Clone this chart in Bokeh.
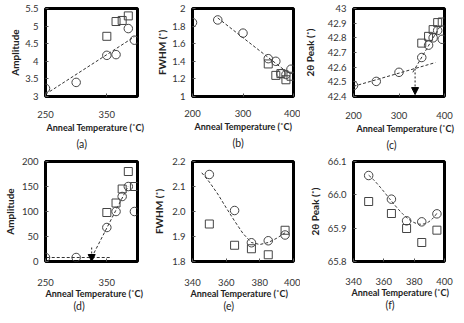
import numpy as np
from bokeh.plotting import figure
from bokeh.layouts import gridplot
from bokeh.models import (Range1d, FixedTicker, NumeralTickFormatter, Title,
                          Arrow, NormalHead)
from bokeh.embed import file_html
from bokeh.resources import INLINE

# ---------------- data ----------------
# (a) XRD amplitude vs anneal temperature
a_circ_t = [250, 300, 350, 365, 385, 395]
a_circ_v = [3.23, 3.40, 4.17, 4.19, 4.93, 4.60]
a_sq_t = [350, 365, 375, 385]
a_sq_v = [4.71, 5.13, 5.16, 5.29]

# (b) FWHM
b_circ_t = [200, 250, 300, 350, 365, 375, 385, 395]
b_circ_v = [1.84, 1.87, 1.72, 1.43, 1.40, 1.26, 1.25, 1.31]
b_sq_t = [350, 365, 375, 385, 395]
b_sq_v = [1.37, 1.24, 1.26, 1.19, 1.23]

# (c) 2-theta peak position
c_circ_t = [200, 250, 300, 350, 365, 375, 385, 395]
c_circ_v = [42.475, 42.503, 42.565, 42.666, 42.75, 42.80, 42.85, 42.79]
c_sq_t = [350, 365, 375, 385, 395]
c_sq_v = [42.764, 42.81, 42.856, 42.904, 42.908]

# (d) amplitude, second reflection
d_circ_t = [250, 300, 350, 365, 375, 385, 395]
d_circ_v = [8, 8, 68, 100, 130, 150, 100]
d_sq_t = [350, 365, 375, 385, 395]
d_sq_v = [98, 117, 145, 180, 150]

# (e) FWHM, second reflection
e_circ_t = [350, 365, 375, 385, 395]
e_circ_v = [2.148, 2.004, 1.875, 1.883, 1.906]
e_sq_t = [350, 365, 375, 385, 395]
e_sq_v = [1.95, 1.865, 1.851, 1.827, 1.925]
# guide curve drawn through (e)
e_curve_t = [345.5, 350, 355, 360, 365, 370, 375, 380, 385, 390, 395]
e_curve_v = [2.155, 2.118, 2.07, 2.015, 1.962, 1.912, 1.876, 1.868, 1.876, 1.893, 1.915]

# (f) 2-theta peak, second reflection
f_circ_t = [350, 365, 375, 385, 395]
f_circ_v = [66.058, 65.987, 65.922, 65.919, 65.943]
f_sq_t = [350, 365, 375, 385, 395]
f_sq_v = [65.98, 65.944, 65.899, 65.857, 65.894]

X_TITLE = "Anneal Temperature (\u02daC)"

FONT = "Lato"

# panel geometry: cell origin/size and frame box in page pixels
COLS = [(0, 150), (150, 150), (300, 164)]
ROWS = [(0, 155), (155, 168)]


def make_panel(col, row, frame, xr, yr, xticks, yticks, yfmt, xstand,
               ytitle, ystand, xt_off, xt_stand, tag, tag_off, tag_stand):
    cx, cw = COLS[col]
    ry, rh = ROWS[row]
    L, R, T, B = frame
    p = figure(width=cw, height=rh, output_backend="svg", toolbar_location=None,
               x_range=Range1d(*xr), y_range=Range1d(*yr),
               min_border_left=L - cx, min_border_right=cx + cw - R,
               min_border_top=T - ry, min_border_bottom=ry + rh - B)
    p.background_fill_color = "white"
    p.border_fill_color = "white"
    p.grid.visible = False
    p.outline_line_color = "black"
    p.outline_line_width = 3
    for ax in (p.xaxis[0], p.yaxis[0]):
        ax.axis_line_color = None
        ax.major_tick_in = 3
        ax.major_tick_out = 0
        ax.major_tick_line_color = "#555555"
        ax.minor_tick_line_color = None
        ax.major_label_text_font = FONT
        ax.major_label_text_font_size = "9.5px"
        ax.major_label_text_color = "#333333"
    p.xaxis.ticker = FixedTicker(ticks=xticks)
    p.yaxis.ticker = FixedTicker(ticks=yticks)
    p.xaxis.major_label_standoff = xstand
    p.yaxis.major_label_standoff = 7
    p.yaxis.formatter = NumeralTickFormatter(format=yfmt)
    p.xaxis.formatter = NumeralTickFormatter(format="0")
    # vertical axis title
    p.yaxis.axis_label = ytitle
    p.yaxis.axis_label_standoff = ystand
    p.yaxis.axis_label_text_font = FONT
    p.yaxis.axis_label_text_font_size = "10px"
    p.yaxis.axis_label_text_font_style = "bold"
    p.yaxis.axis_label_text_color = "#222222"
    # horizontal axis title and panel tag, stacked under the axis
    p.add_layout(Title(text=X_TITLE, align="left", offset=xt_off, standoff=xt_stand,
                       text_font=FONT, text_font_size="9px",
                       text_font_style="bold", text_color="#222222"), "below")
    p.add_layout(Title(text=tag, align="left", offset=tag_off, standoff=tag_stand,
                       text_font=FONT, text_font_size="10.5px",
                       text_font_style="normal", text_color="#222222"), "below")
    return p


def points(p, ct, cv, st, sv):
    p.scatter(st, sv, marker="square", size=8, fill_color=None,
              line_color="#444444", line_width=1)
    p.scatter(ct, cv, marker="circle", size=8.5, fill_color=None,
              line_color="#444444", line_width=1)


def trend(p, xs, ys):
    p.line(xs, ys, line_dash="3 2", line_color="#333333", line_width=1)


def linfit(t, v):
    return np.polyfit(np.asarray(t, float), np.asarray(v, float), 1)


def onset_arrow(p, x, y0, y1):
    p.add_layout(Arrow(end=NormalHead(size=7, fill_color="black", line_color="black"),
                       x_start=x, y_start=y0, x_end=x, y_end=y1,
                       line_dash="2 2", line_width=1, line_color="#222222"))


# ---------------- (a) ----------------
pa = make_panel(0, 0, (35, 137, 8, 103), (250, 400), (3, 5.5),
                [250, 350], [3, 3.5, 4, 4.5, 5, 5.5], "0.[0]", 14,
                "Amplitude", 1, 1, -2, "(a)", 31, 9)
ka = linfit(a_circ_t, a_circ_v)
xa = np.array([250, 395])
trend(pa, xa, np.polyval(ka, xa))
points(pa, a_circ_t, a_circ_v, a_sq_t, a_sq_v)

# ---------------- (b) ----------------
pb = make_panel(1, 0, (185, 293, 7, 104), (200, 400), (1, 2),
                [200, 300, 400], [1, 1.2, 1.4, 1.6, 1.8, 2], "0.[0]", 13,
                "FWHM (\u02da)", 1, 2, -2, "(b)", 40, 9)
kb = linfit(b_circ_t[1:], b_circ_v[1:])
xb = np.array([250, 390])
trend(pb, xb, np.polyval(kb, xb))
points(pb, b_circ_t, b_circ_v, b_sq_t, b_sq_v)

# ---------------- (c) ----------------
pc = make_panel(2, 0, (348, 444, 8, 102), (200, 400), (42.4, 43),
                [200, 300, 400], [42.4, 42.5, 42.6, 42.7, 42.8, 42.9, 43], "0.[0]", 15,
                "2\u03b8 Peak (\u02da)", 9, 3, -2, "(c)", 33, 9)
kc1 = linfit(c_circ_t[:3], c_circ_v[:3])
kc2 = linfit(c_circ_t[3:7], c_circ_v[3:7])
xc_cross = (kc2[1] - kc1[1]) / (kc1[0] - kc2[0])
yc_cross = np.polyval(kc1, xc_cross)
xc1 = np.array([200, 380])
trend(pc, xc1, np.polyval(kc1, xc1))
xc2 = np.array([xc_cross - 5, 392])
trend(pc, xc2, np.polyval(kc2, xc2))
points(pc, c_circ_t, c_circ_v, c_sq_t, c_sq_v)
onset_arrow(pc, xc_cross, yc_cross, 42.413)

# ---------------- (d) ----------------
pd_ = make_panel(0, 1, (39, 137, 161, 263), (250, 400), (0, 200),
                 [250, 350], [0, 50, 100, 150, 200], "0", 17,
                 "Amplitude", 3, 0, -5, "(d)", 28, 3)
kd1 = linfit(d_circ_t[:2], d_circ_v[:2])
kd2 = linfit(d_circ_t[2:6], d_circ_v[2:6])
xd_cross = (kd2[1] - kd1[1]) / (kd1[0] - kd2[0])
yd_cross = np.polyval(kd1, xd_cross)
xd1 = np.array([252, 358])
trend(pd_, xd1, np.polyval(kd1, xd1))
xd2 = np.array([xd_cross, 385])
trend(pd_, xd2, np.polyval(kd2, xd2))
points(pd_, d_circ_t, d_circ_v, d_sq_t, d_sq_v)
onset_arrow(pd_, xd_cross, yd_cross + 20, 0)

# ---------------- (e) ----------------
pe = make_panel(1, 1, (188, 293, 159, 263), (340, 400), (1.8, 2.2),
                [340, 360, 380, 400], [1.8, 1.9, 2.0, 2.1, 2.2], "0.0", 17,
                "FWHM (\u02da)", 4, -2, -5, "(e)", 31, 3)
trend(pe, e_curve_t, e_curve_v)
points(pe, e_circ_t, e_circ_v, e_sq_t, e_sq_v)

# ---------------- (f) ----------------
pf = make_panel(2, 1, (343, 449, 160, 261), (340, 400), (65.8, 66.1),
                [340, 360, 380, 400], [65.8, 65.9, 66.0, 66.1], "0.0", 16,
                "2\u03b8 Peak (\u02da)", 4, -2, -5, "(f)", 32, 3)
kf = np.polyfit(f_circ_t, f_circ_v, 3)
xf = np.linspace(350, 395, 60)
trend(pf, xf, np.polyval(kf, xf))
points(pf, f_circ_t, f_circ_v, f_sq_t, f_sq_v)

grid = gridplot([[pa, pb, pc], [pd_, pe, pf]], toolbar_location=None)

open("out.html", "w").write(file_html(grid, INLINE))
